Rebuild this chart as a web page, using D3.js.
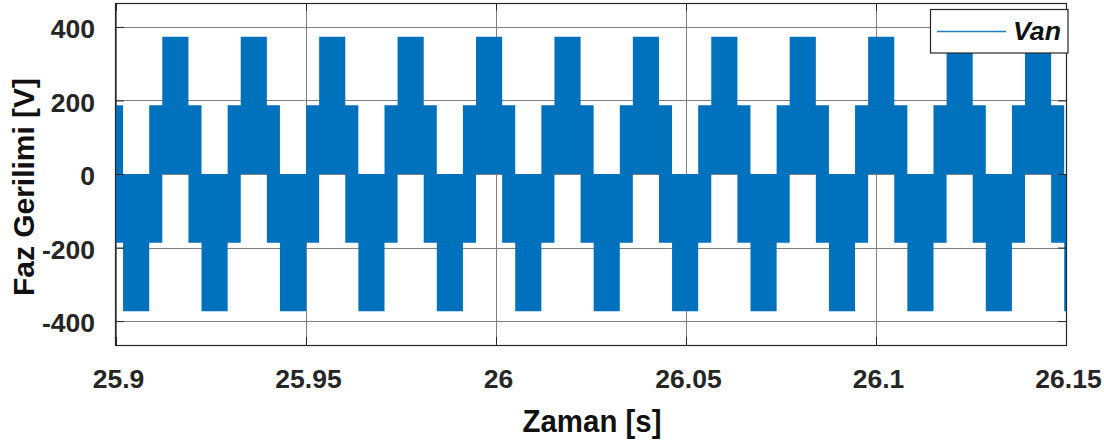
<!DOCTYPE html>
<html>
<head>
<meta charset="utf-8">
<script src="https://cdn.jsdelivr.net/npm/d3@7"></script>
<style>
  html, body { margin: 0; padding: 0; background: #fff; }
  svg { display: block; }
  text { font-family: "Liberation Sans", Arial, Helvetica, sans-serif; }
</style>
</head>
<body>
<svg id="chart" width="1104" height="443"></svg>
<script>
// ---- data ----
// PWM phase voltage envelope: each segment starts at segStart[i] and the
// switching band spans from segLow[i] to segHigh[i] (V) until the next start.
const segStart = [
  25.9, 25.90186, 25.90874, 25.91218, 25.91906, 25.92250, 25.92938, 25.93282,
  25.93970, 25.94314, 25.95002, 25.95346, 25.96034, 25.96378, 25.97066, 25.97410,
  25.98098, 25.98442, 25.99130, 25.99474, 26.00162, 26.00506, 26.01194, 26.01538,
  26.02226, 26.02570, 26.03258, 26.03601, 26.04289, 26.04633, 26.05321, 26.05665,
  26.06353, 26.06697, 26.07385, 26.07729, 26.08417, 26.08761, 26.09449, 26.09793,
  26.10481, 26.10825, 26.11513, 26.11857, 26.12545, 26.12889, 26.13577, 26.13921,
  26.14609, 26.14953
];
const segEnd = 26.15;
const segHigh = [
  187, 0, 187, 373, 187, 0, 187, 373, 187, 0, 187, 373, 187, 0, 187, 373,
  187, 0, 187, 373, 187, 0, 187, 373, 187, 0, 187, 373, 187, 0, 187, 373,
  187, 0, 187, 373, 187, 0, 187, 373, 187, 0, 187, 373, 187, 0, 187, 373,
  187, 0
];
const segLow = [
  -187, -373, -187, 0, -187, -373, -187, 0, -187, -373, -187, 0, -187, -373, -187, 0,
  -187, -373, -187, 0, -187, -373, -187, 0, -187, -373, -187, 0, -187, -373, -187, 0,
  -187, -373, -187, 0, -187, -373, -187, 0, -187, -373, -187, 0, -187, -373, -187, 0,
  -187, -373
];
const xTicks = [25.9, 25.95, 26, 26.05, 26.1, 26.15];
const xTickLabels = ["25.9", "25.95", "26", "26.05", "26.1", "26.15"];
const yTicks = [-400, -200, 0, 200, 400];
const yTickLabels = ["-400", "-200", "0", "200", "400"];
const xDomain = [25.9, 26.15];
const yDomain = [-465, 465];
const xTitle = "Zaman [s]";
const yTitle = "Faz Gerilimi [V]";
const seriesName = "Van";

// ---- layout ----
const L = 116, R = 1066, T = 3, B = 345;
const blue = "#0072BD";
const ink = "#262626";

const svg = d3.select("#chart");
const x = d3.scaleLinear().domain(xDomain).range([L, R]);
const y = d3.scaleLinear().domain(yDomain).range([B, T]);

// background
svg.append("rect").attr("x", L).attr("y", T).attr("width", R - L).attr("height", B - T).attr("fill", "#fff");

// grid
const grid = svg.append("g").attr("stroke", "#808080").attr("stroke-width", 1).attr("shape-rendering", "crispEdges");
grid.selectAll("line.gx").data(xTicks).join("line")
  .attr("x1", d => Math.round(x(d)) + 0.5).attr("x2", d => Math.round(x(d)) + 0.5)
  .attr("y1", T).attr("y2", B);
grid.selectAll("line.gy").data(yTicks).join("line")
  .attr("y1", d => Math.round(y(d)) + 0.5).attr("y2", d => Math.round(y(d)) + 0.5)
  .attr("x1", L).attr("x2", R);

// waveform band
const pts = segStart.map((t, i) => ({ t, hi: segHigh[i], lo: segLow[i] }));
pts.push({ t: segEnd, hi: segHigh[segHigh.length - 1], lo: segLow[segLow.length - 1] });
const area = d3.area()
  .x(d => x(d.t)).y0(d => y(d.lo)).y1(d => y(d.hi))
  .curve(d3.curveStepAfter);
svg.append("path").datum(pts).attr("d", area).attr("fill", blue).attr("stroke", "none");

// axes (inside ticks, box)
const tickLen = 8;
const bottomAxis = d3.axisBottom(x).tickValues(xTicks).tickFormat((d, i) => xTickLabels[i]).tickSizeInner(-tickLen).tickSizeOuter(0).tickPadding(24);
const gx = svg.append("g").attr("transform", `translate(0,${B})`).call(bottomAxis);
gx.select(".domain").remove();
gx.selectAll("line").attr("stroke", ink);
gx.selectAll("text").attr("font-size", 26.5).attr("font-weight", "bold").attr("fill", ink).attr("dx", 2);

const topAxis = d3.axisTop(x).tickValues(xTicks).tickFormat("").tickSizeInner(-tickLen).tickSizeOuter(0);
const gt = svg.append("g").attr("transform", `translate(0,${T})`).call(topAxis);
gt.select(".domain").remove();
gt.selectAll("line").attr("stroke", ink);

const leftAxis = d3.axisLeft(y).tickValues(yTicks).tickFormat((d, i) => yTickLabels[i]).tickSizeInner(-tickLen).tickSizeOuter(0).tickPadding(21);
const gy = svg.append("g").attr("transform", `translate(${L},0)`).call(leftAxis);
gy.select(".domain").remove();
gy.selectAll("line").attr("stroke", ink);
gy.selectAll("text").attr("font-size", 26.5).attr("font-weight", "bold").attr("fill", ink).attr("dy", "0.4em");

const rightAxis = d3.axisRight(y).tickValues(yTicks).tickFormat("").tickSizeInner(-tickLen).tickSizeOuter(0);
const gr = svg.append("g").attr("transform", `translate(${R},0)`).call(rightAxis);
gr.select(".domain").remove();
gr.selectAll("line").attr("stroke", ink);

svg.append("rect").attr("x", L - 0.5).attr("y", T + 0.5).attr("width", R - L + 1).attr("height", B - T)
  .attr("fill", "none").attr("stroke", ink).attr("stroke-width", 1.2);

// titles
svg.append("text").attr("x", 592).attr("y", 432).attr("text-anchor", "middle")
  .attr("font-size", 31).attr("font-weight", "bold").attr("fill", "#111")
  .attr("textLength", 139).attr("lengthAdjust", "spacingAndGlyphs").text(xTitle);
svg.append("text").attr("transform", "translate(34,187) rotate(-90)").attr("text-anchor", "middle")
  .attr("font-size", 30).attr("font-weight", "bold").attr("fill", "#111")
  .attr("textLength", 218).attr("lengthAdjust", "spacingAndGlyphs").text(yTitle);

// legend
const lg = svg.append("g");
lg.append("rect").attr("x", 930.5).attr("y", 9.5).attr("width", 137.5).attr("height", 43.5)
  .attr("fill", "#fff").attr("stroke", ink).attr("stroke-width", 1.2);
lg.append("line").attr("x1", 937).attr("x2", 1006).attr("y1", 31.5).attr("y2", 31.5)
  .attr("stroke", "#1f7fc0").attr("stroke-width", 1.5);
lg.append("text").attr("x", 1013).attr("y", 39.5).attr("font-size", 25).attr("font-weight", "bold")
  .attr("font-style", "italic").attr("fill", "#111")
  .attr("textLength", 48).attr("lengthAdjust", "spacingAndGlyphs").text(seriesName);
</script>
</body>
</html>
